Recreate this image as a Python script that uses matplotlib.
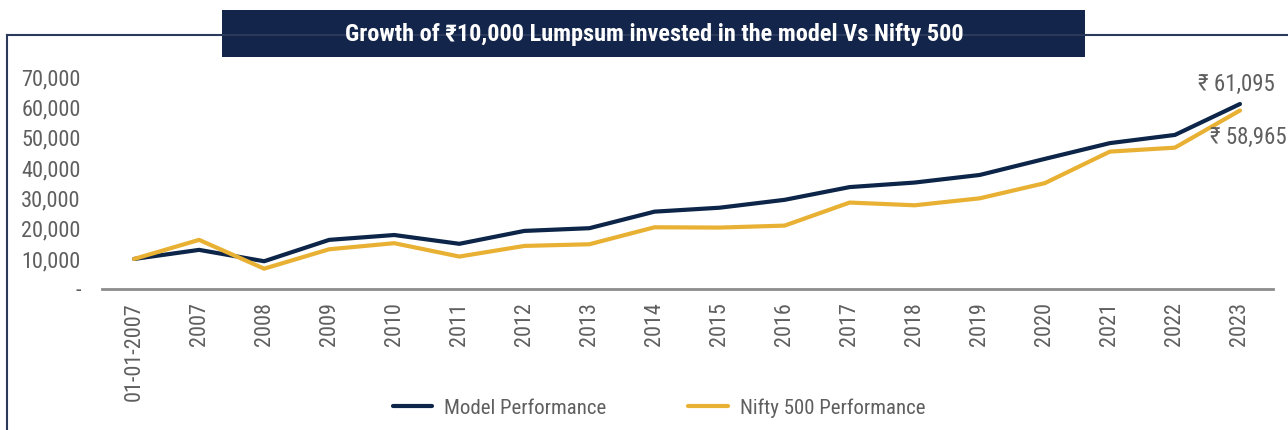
import matplotlib.pyplot as plt
from matplotlib.patches import Rectangle
from matplotlib.lines import Line2D
from matplotlib.ticker import FuncFormatter

# data
labels = ['01-01-2007', '2007', '2008', '2009', '2010', '2011', '2012', '2013', '2014',
          '2015', '2016', '2017', '2018', '2019', '2020', '2021', '2022', '2023']
model = [10000, 13000, 9250, 16300, 17900, 15000, 19250, 20150, 25600,
         26900, 29500, 33700, 35200, 37700, 43000, 48200, 50900, 61095]
nifty = [10000, 16300, 6800, 13200, 15200, 10800, 14300, 14850, 20450,
         20350, 21000, 28600, 27700, 30000, 35000, 45400, 46700, 58965]
title = 'Growth of \u20b910,000 Lumpsum invested in the model Vs Nifty 500'

navy = '#0c2548'
gold = '#e8b133'
grey = '#5f5f5f'
plt.rcParams['font.family'] = ['Roboto Condensed', 'Liberation Sans Narrow', 'Roboto', 'DejaVu Sans']

W, H = 1288, 430
fig = plt.figure(figsize=(W / 100, H / 100), dpi=100)

# outer frame (top and left edges)
fig.add_artist(Line2D([7 / W, 1], [1 - 35 / H, 1 - 35 / H], color='#2b3a5c', lw=1.5))
fig.add_artist(Line2D([7 / W, 7 / W], [0, 1 - 35 / H], color='#2b3a5c', lw=1.5))

# title box
fig.add_artist(Rectangle((222 / W, 1 - 57 / H), (1085 - 222) / W, 47 / H,
                         facecolor='#13254a', edgecolor='none', transform=fig.transFigure))
fig.text(654 / W, 1 - 34 / H, title, color='white', fontsize=17.5, fontweight='bold',
         ha='center', va='center')

ax = fig.add_axes([101.5 / W, 1 - 289.3 / H, 1171 / W, (289.3 - 77) / H])
x = range(len(labels))
ax.plot(x, model, color=navy, lw=3, label='Model Performance', solid_capstyle='round')
ax.plot(x, nifty, color=gold, lw=3, label='Nifty 500 Performance', solid_capstyle='round')

ax.set_xlim(-0.5, len(labels) - 0.5)
ax.set_ylim(0, 70000)
ax.set_yticks(range(0, 70001, 10000))
ax.yaxis.set_major_formatter(FuncFormatter(lambda v, p: '-' if v == 0 else f'{int(v):,}'))
ax.set_xticks(list(x))
ax.set_xticklabels(labels, rotation=90, va='top', ha='center')
ax.tick_params(axis='y', length=0, pad=15, labelsize=16, labelcolor=grey)
ax.tick_params(axis='x', length=0, pad=9, labelsize=16, labelcolor=grey)

for s in ['top', 'right', 'left']:
    ax.spines[s].set_visible(False)
ax.spines['bottom'].set_color('#8c8c8c')
ax.spines['bottom'].set_linewidth(2)

# end labels
ax.annotate(f'\u20b9 {model[-1]:,}', (x[-1], model[-1]), xytext=(-42, 20),
            textcoords='offset pixels', ha='left', va='center', fontsize=16.5,
            color=grey, annotation_clip=False)
ax.annotate(f'\u20b9 {nifty[-1]:,}', (x[-1], nifty[-1]), xytext=(-30, -27),
            textcoords='offset pixels', ha='left', va='center', fontsize=16.5,
            color=grey, annotation_clip=False)

fig.legend(loc='center', bbox_to_anchor=(659 / W, 22 / H), ncol=2, frameon=False,
           fontsize=15, labelcolor=grey, handlelength=1.9, handletextpad=0.58,
           columnspacing=3.9)

fig.savefig('out.png', dpi=100)
